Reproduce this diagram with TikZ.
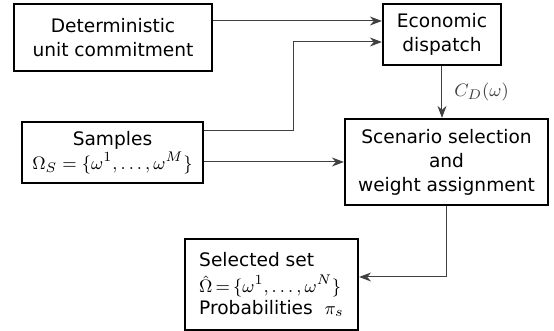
\documentclass[tikz,border=0pt]{standalone}
\usepackage[no-math]{fontspec}
\setmainfont{DejaVu Sans}
\usetikzlibrary{arrows.meta,positioning,calc}
\tikzset{
  blk/.style={rectangle,draw=black,line width=1.1pt,fill=white,
    font=\fontsize{9.3}{12}\selectfont,align=center,inner sep=2pt},
  arr/.style={-{Stealth[length=6pt,width=4.5pt]},line width=0.5pt,color=black!75},
  lbl/.style={font=\fontsize{9.3}{12}\selectfont,right,inner sep=6pt},
}

\begin{document}
\begin{tikzpicture}[x=0.5pt,y=-0.5pt]
  \useasboundingbox (0,0) rectangle (554,331);
  \node[blk,minimum width=99pt,minimum height=33.5pt]  (det)  at (113,37.5) {Deterministic\\unit commitment};
  \node[blk,minimum width=59pt,minimum height=30.5pt]  (econ) at (442,34.5) {Economic\\dispatch};
  \node[blk,minimum width=90.5pt,minimum height=30.5pt] (samp) at (112.5,152.5) {Samples\\$\Omega_S=\{\omega^1,\ldots,\omega^M\}$};
  \node[blk,minimum width=101.5pt,minimum height=43pt] (scen) at (446.5,162) {Scenario selection\\and\\weight assignment};
  \node[blk,minimum width=86.5pt,minimum height=45.5pt,align=left,font=\fontsize{9.3}{11}\selectfont] (sel) at (271.5,284.5)
    {Selected set\\[2pt]$\hat{\Omega}\mskip-2mu=\mskip-2mu\{\omega^1,\ldots,\omega^N\}$\\Probabilities\ \ $\pi_s$};

  \coordinate (in1)  at ([yshift=6.75pt]econ.west);
  \coordinate (in2)  at ([yshift=-3.75pt]econ.west);
  \coordinate (sout) at ([yshift=10.75pt]samp.east);
  \coordinate (sin)  at ([yshift=3.75pt]sel.east);

  \draw[arr] (det.east |- in1) -- (in1);
  \draw[arr] (sout) -- ++(89,0) |- (in2);
  \draw[arr] (samp.east |- scen.west) -- (scen.west);
  \draw[arr] (econ.south) -- (econ.south |- scen.north) node[lbl,midway] {$C_D(\omega)$};
  \draw[arr] (scen.south) |- (sin);
\end{tikzpicture}
\end{document}
